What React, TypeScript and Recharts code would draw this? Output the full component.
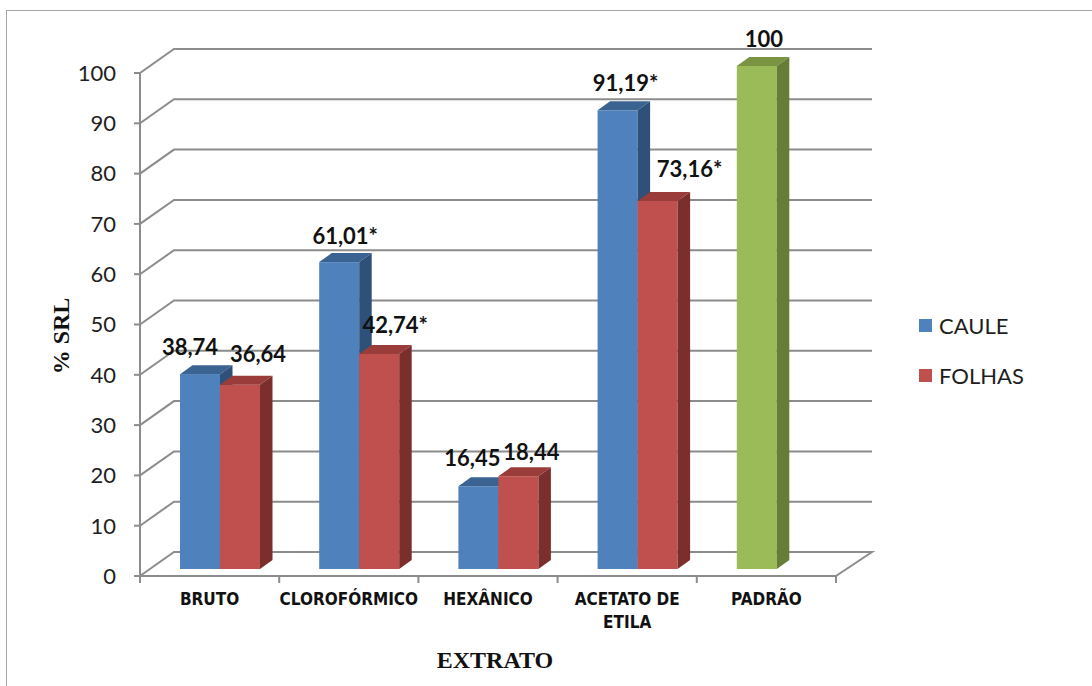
import React from 'react';
import { BarChart, Bar, XAxis, YAxis, CartesianGrid, LabelList } from 'recharts';

// extracts and their % SRL values
const categories = ['BRUTO', 'CLOROFÓRMICO', 'HEXÂNICO', 'ACETATO DE ETILA', 'PADRÃO'];
const caule: (number | null)[] = [38.74, 61.01, 16.45, 91.19, 100];
const folhas: (number | null)[] = [36.64, 42.74, 18.44, 73.16, null];
const cauleSig = [false, true, false, true, false];
const folhasSig = [false, true, false, true, false];
const seriesNames = ['CAULE', 'FOLHAS'];
const yTicks = [0, 10, 20, 30, 40, 50, 60, 70, 80, 90, 100];

const data = categories.map((name, i) => ({ name, caule: caule[i], folhas: folhas[i] }));

// layout
const W = 1092;
const H = 686;
const PLOT_L = 140;
const PLOT_R = 836;
const PLOT_T = 73;
const PLOT_B = 576;
const BAND = (PLOT_R - PLOT_L) / categories.length;
const WALL_DX = 34;
const WALL_DY = -24;
const BAR_DX = 12.5;
const BAR_DY = -9;
const SHIFT_X = 10;
const SHIFT_Y = -7;

// hand-placed label nudges (dx, dy), like the original
const cauleNudge = [[-16, 0], [0, 1], [-12, -1], [2, 0], [1, 0]];
const folhasNudge = [[12, -3], [10, -2], [7, 3], [26, -5], [0, 0]];

const AXIS = '#8c8c8c';
const BLUE = { front: '#4F81BD', top: '#3A6392', side: '#2F5079' };
const RED = { front: '#C0504D', top: '#9A3D3A', side: '#7B2F2D' };
const GREEN = { front: '#9BBB59', top: '#7A9442', side: '#667D37' };

const fmt = (v: number) => (Number.isInteger(v) ? String(v) : v.toFixed(2).replace('.', ','));

const wrap = (s: string, max: number) => {
  const out: string[] = [];
  let cur = '';
  s.split(' ').forEach((w) => {
    if (cur && (cur + ' ' + w).length > max) {
      out.push(cur);
      cur = w;
    } else cur = cur ? cur + ' ' + w : w;
  });
  if (cur) out.push(cur);
  return out;
};

const gridLine = (p: any) => {
  const { x1, x2, y1 } = p;
  const by = y1 + WALL_DY;
  let d = `M${x1},${y1}L${x1 + WALL_DX},${by}L${x2 + WALL_DX + 2},${by}`;
  if (Math.abs(y1 - PLOT_B) < 1.5) d += `L${x2},${y1}`;
  return <path key={`grid-${y1}`} d={d} fill="none" stroke={AXIS} strokeWidth={2} />;
};

const makeShape = (series: string) => (p: any) => {
  const { x, y, width, height, index } = p;
  if (!height || height <= 0) return <g />;
  let pal = series === 'caule' ? BLUE : RED;
  if (series === 'caule' && categories[index] === 'PADRÃO') pal = GREEN;
  const X = x + SHIFT_X;
  const Y = y + SHIFT_Y;
  const w = width;
  const h = height;
  return (
    <g>
      <rect x={X} y={Y} width={w} height={h} fill={pal.front} />
      <polygon
        points={`${X},${Y} ${X + BAR_DX},${Y + BAR_DY} ${X + w + BAR_DX},${Y + BAR_DY} ${X + w},${Y}`}
        fill={pal.top}
      />
      <polygon
        points={`${X + w},${Y} ${X + w + BAR_DX},${Y + BAR_DY} ${X + w + BAR_DX},${Y + h + BAR_DY} ${X + w},${Y + h}`}
        fill={pal.side}
      />
    </g>
  );
};

const makeLabel = (sig: boolean[], nudge: number[][]) => (p: any) => {
  const vb = p.viewBox || {};
  const x = p.x ?? vb.x;
  const y = p.y ?? vb.y;
  const width = p.width ?? vb.width;
  const { value, index } = p;
  if (value == null) return null;
  const [nx, ny] = nudge[index] || [0, 0];
  const cx = x + SHIFT_X + width / 2 + 6 + nx;
  const cy = y + SHIFT_Y - 27 + ny;
  return (
    <text
      x={cx}
      y={cy}
      dy="0.35em"
      textAnchor="middle"
      fontFamily="Lato, 'Open Sans', sans-serif"
      fontWeight={700}
      fontSize={22}
      fill="#111"
    >
      {fmt(Number(value)) + (sig[index] ? '*' : '')}
    </text>
  );
};

const XTick = (p: any) => {
  const { x, y, payload } = p;
  const index = p.index ?? payload.index ?? 0;
  const lines = wrap(String(payload.value), 12);
  return (
    <g>
      {index === 0 && <line x1={x - BAND / 2} y1={y} x2={x - BAND / 2} y2={y + 7} stroke={AXIS} strokeWidth={2} />}
      <line x1={x + BAND / 2} y1={y} x2={x + BAND / 2} y2={y + 7} stroke={AXIS} strokeWidth={2} />
      <text
        x={x}
        y={y + 23}
        textAnchor="middle"
        fontFamily="'Liberation Sans Narrow', 'DejaVu Sans Condensed', sans-serif"
        fontWeight={700}
        fontSize={17}
        fill="#111"
      >
        {lines.map((l, i) => (
          <tspan key={i} x={x} dy={i === 0 ? '0.35em' : 23}>
            {l}
          </tspan>
        ))}
      </text>
    </g>
  );
};

const legendColors = [BLUE.front, RED.front];

export default function App() {
  return (
    <div style={{ position: 'absolute', left: 0, top: 0, width: W, height: H, overflow: 'hidden', background: '#fff' }}>
      <div
        style={{
          position: 'absolute',
          left: 6,
          top: 10,
          width: 1200,
          height: 800,
          border: '1.5px solid #a6a6a6',
        }}
      />
      <div style={{ position: 'absolute', left: 0, top: 0 }}>
        <BarChart
          width={W}
          height={H}
          data={data}
          margin={{ top: PLOT_T, right: W - PLOT_R, bottom: 40, left: 60 }}
          barGap={0}
        >
          <CartesianGrid horizontal={gridLine} vertical={false} />
          <XAxis
            dataKey="name"
            height={H - PLOT_B - 40}
            axisLine={{ stroke: AXIS, strokeWidth: 2 }}
            tickLine={false}
            tickSize={0}
            tickMargin={0}
            interval={0}
            tick={<XTick />}
          />
          <YAxis
            domain={[0, 100]}
            ticks={yTicks}
            interval={0}
            width={PLOT_L - 60}
            tickSize={6}
            tickMargin={18}
            axisLine={{ stroke: AXIS, strokeWidth: 2 }}
            tickLine={{ stroke: AXIS, strokeWidth: 2 }}
            tick={{ fontFamily: "Lato, 'Open Sans', sans-serif", fontSize: 22, fill: '#1e1e1e' }}
          />
          <Bar dataKey="caule" name={seriesNames[0]} barSize={40} shape={makeShape('caule')} isAnimationActive={false}>
            <LabelList dataKey="caule" content={makeLabel(cauleSig, cauleNudge)} />
          </Bar>
          <Bar dataKey="folhas" name={seriesNames[1]} barSize={40} shape={makeShape('folhas')} isAnimationActive={false}>
            <LabelList dataKey="folhas" content={makeLabel(folhasSig, folhasNudge)} />
          </Bar>
          <text
            x={61}
            y={336}
            transform="rotate(-90 61 336)"
            textAnchor="middle"
            dy="0.35em"
            fontFamily="'Liberation Serif', 'Times New Roman', serif"
            fontWeight={700}
            fontSize={24}
            fill="#111"
          >
            % SRL
          </text>
          <text
            x={495}
            y={660}
            textAnchor="middle"
            dy="0.35em"
            fontFamily="'Liberation Serif', 'Times New Roman', serif"
            fontWeight={700}
            fontSize={24}
            fill="#111"
          >
            EXTRATO
          </text>
        </BarChart>
      </div>
      {seriesNames.map((n, i) => (
        <div
          key={n}
          style={{
            position: 'absolute',
            left: 919,
            top: 312 + i * 50,
            height: 26,
            display: 'flex',
            alignItems: 'center',
            fontFamily: "Lato, 'Open Sans', sans-serif",
            fontSize: 22,
            color: '#1e1e1e',
          }}
        >
          <span style={{ display: 'inline-block', width: 13, height: 13, background: legendColors[i], marginRight: 7 }} />
          {n}
        </div>
      ))}
    </div>
  );
}
